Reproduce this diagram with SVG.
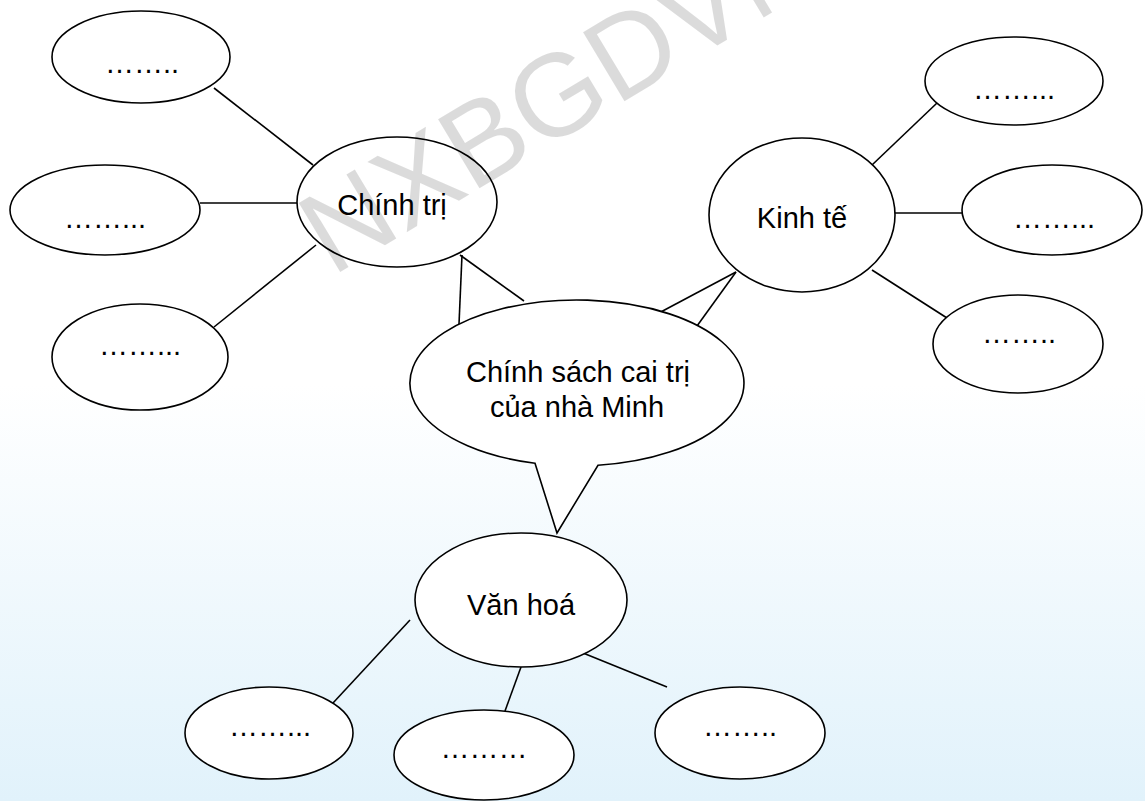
<svg xmlns="http://www.w3.org/2000/svg" width="1145" height="801" viewBox="0 0 1145 801">
<defs>
<linearGradient id="bg" x1="0" y1="0" x2="0" y2="1">
<stop offset="0" stop-color="#ffffff"/>
<stop offset="0.48" stop-color="#ffffff"/>
<stop offset="1" stop-color="#e1f2fb"/>
</linearGradient>
</defs>
<style>
.n{fill:#fff;stroke:#000;stroke-width:1.6}
.c line{stroke:#000;stroke-width:1.6}
text{font-family:"Liberation Sans",Arial,sans-serif;font-size:29px;fill:#000;text-anchor:middle}
.wm{font-size:117px;fill:#000;fill-opacity:0.14;text-anchor:start}
</style>
<rect x="0" y="0" width="1145" height="801" fill="url(#bg)"/>
<g id="connectors" class="c">
<line x1="214" y1="88" x2="313" y2="165"/>
<line x1="200" y1="203" x2="297" y2="203"/>
<line x1="214" y1="327" x2="316" y2="245"/>
<line x1="462" y1="255" x2="459" y2="324"/>
<line x1="460" y1="255" x2="524" y2="301"/>
<line x1="736" y1="272" x2="657" y2="314"/>
<line x1="736" y1="272" x2="697" y2="326"/>
<line x1="872" y1="165" x2="937" y2="103"/>
<line x1="895" y1="213" x2="962" y2="213"/>
<line x1="872" y1="270" x2="947" y2="318"/>
<line x1="410" y1="620" x2="333" y2="703"/>
<line x1="521" y1="667" x2="505" y2="711"/>
<line x1="583" y1="653" x2="667" y2="687"/>
</g>
<g id="chinh-tri"><ellipse class="n" cx="397" cy="202" rx="100" ry="65"/><text x="392" y="215">Chính trị</text></g>
<g id="kinh-te"><ellipse class="n" cx="802" cy="215" rx="93" ry="77"/><text x="802" y="228">Kinh tế</text></g>
<g id="van-hoa"><ellipse class="n" cx="521" cy="600" rx="106" ry="67"/><text x="521" y="615">Văn hoá</text></g>
<g id="center"><path class="n" d="M535,463.3 A167,83 0 1 1 598,465.3 L557,533 Z"/><text x="578" y="382">Chính sách cai trị</text><text x="577" y="417">của nhà Minh</text></g>
<g id="ct1"><ellipse class="n" cx="141" cy="57" rx="89" ry="46"/><text x="142" y="73">……..</text></g>
<g id="ct2"><ellipse class="n" cx="105" cy="210" rx="95" ry="45"/><text x="105" y="228">……...</text></g>
<g id="ct3"><ellipse class="n" cx="140" cy="357" rx="88" ry="53"/><text x="140" y="355">……...</text></g>
<g id="kt1"><ellipse class="n" cx="1014" cy="81" rx="89" ry="44"/><text x="1014" y="99">……...</text></g>
<g id="kt2"><ellipse class="n" cx="1052" cy="210" rx="90" ry="45"/><text x="1054" y="228">……...</text></g>
<g id="kt3"><ellipse class="n" cx="1018" cy="344" rx="85" ry="49"/><text x="1019" y="343">……..</text></g>
<g id="vh1"><ellipse class="n" cx="269" cy="733" rx="84" ry="46"/><text x="270" y="736">……...</text></g>
<g id="vh2"><ellipse class="n" cx="484" cy="755" rx="90" ry="45"/><text x="484" y="758">………</text></g>
<g id="vh3"><ellipse class="n" cx="740" cy="733" rx="85" ry="46"/><text x="740" y="736">……..</text></g>
<text class="wm" transform="translate(332,277) rotate(-31)">NXBGDVN</text>
</svg>
